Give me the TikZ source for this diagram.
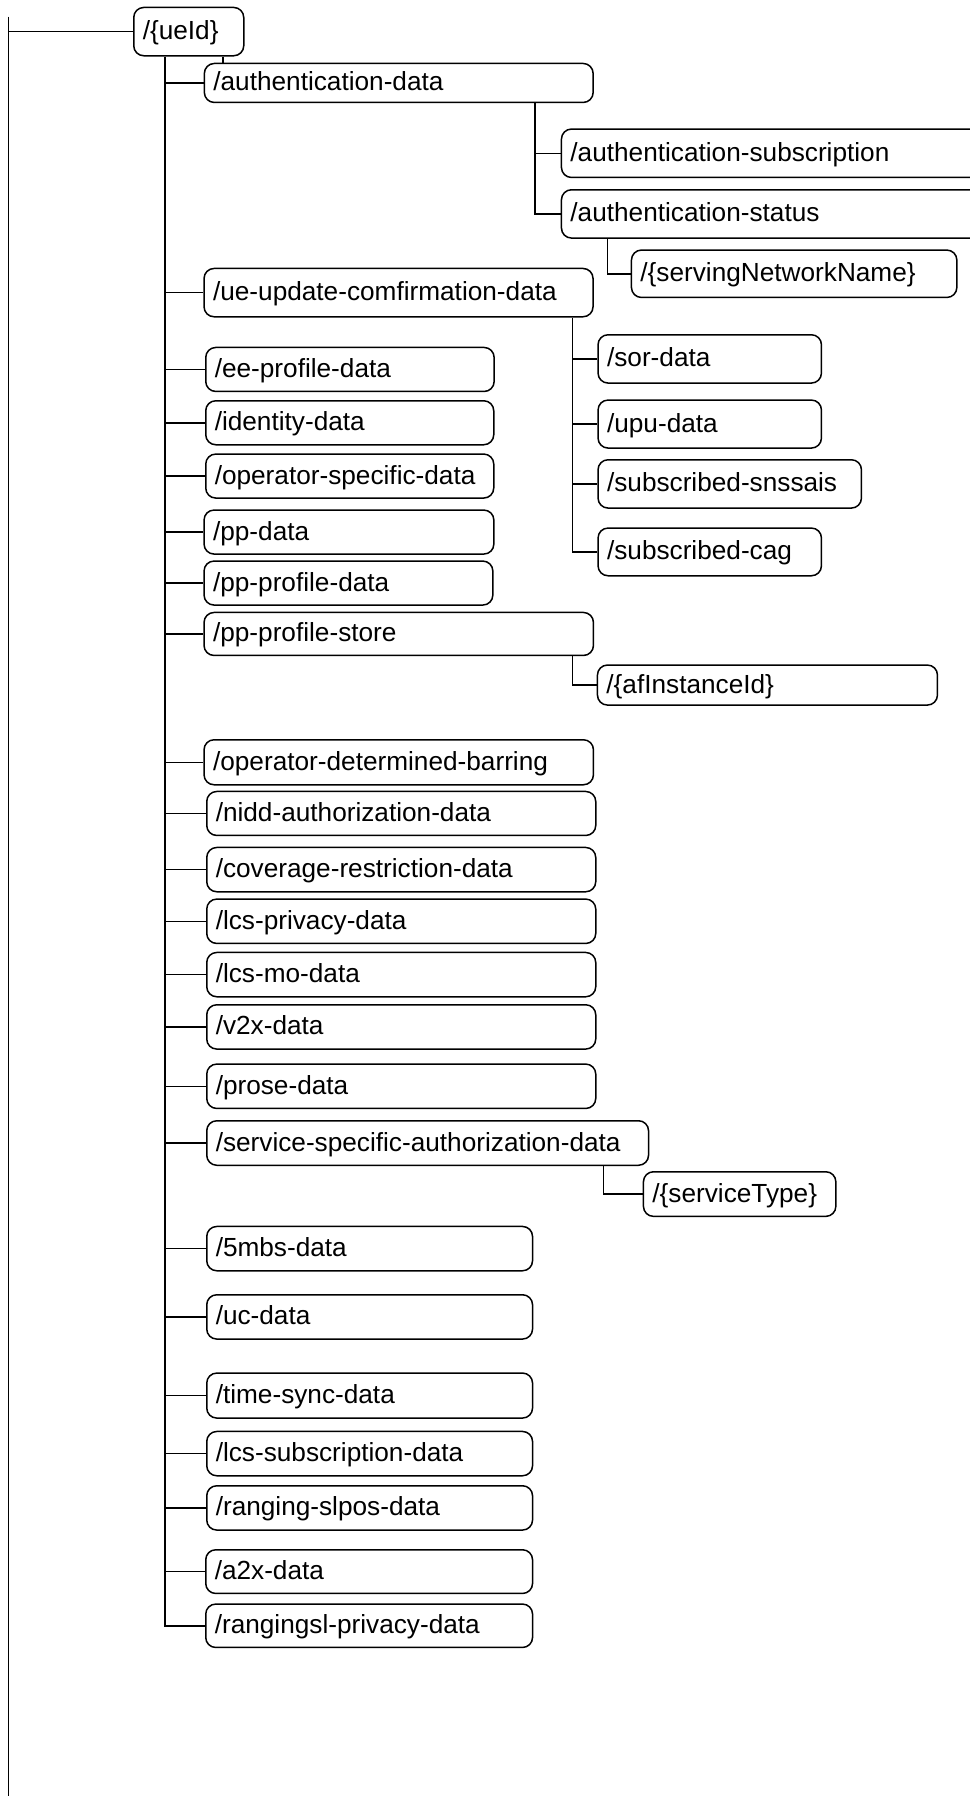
\documentclass[tikz,border=0pt]{standalone}
\usepackage{fontspec}
\setmainfont{Liberation Sans}
\usepackage{tikz}
\tikzset{
  res/.style={draw, rounded corners=5pt, line width=0.75pt, anchor=north west, align=left,
    inner xsep=4.5pt, inner ysep=0pt, minimum height=22pt, text width=185.5pt,
    text height=10.6pt, text depth=2.6pt, font=\fontsize{13.1pt}{15.7pt}\selectfont},
  link/.style={line width=0.75pt}
}
\begin{document}
\begin{tikzpicture}[x=0.5pt,y=0.5pt,yscale=-1,xscale=1]
\useasboundingbox (0,0) rectangle (970,1796);

% Text Node
\node[res, text width=46pt, minimum height=24.15pt] (ueid) at (133,6.7) {/\{ueId\}};
% Text Node
\node[res, text width=185.4pt, minimum height=19.5pt] (authdata) at (203.6,62.7) {/authentication-data};
% Text Node
\node[res, text width=203.2pt, minimum height=24.2pt] (authsub) at (560.7,128.3) {/authentication-subscription};
% Text Node
\node[res, text width=203.2pt, minimum height=24.15pt] (authstatus) at (560.7,189) {/authentication-status};
% Text Node
\node[res, text width=153.7pt, minimum height=23.7pt] (servingnn) at (630.7,249.3) {/\{servingNetworkName\}};
% Text Node
\node[res, minimum height=24.15pt] (ueupdate) at (203.3,267.7) {/ue-update-comfirmation-data};
% Text Node
\node[res, text width=102.7pt, minimum height=24.15pt] (sor) at (597.3,334) {/sor-data};
% Text Node
\node[res, text width=102.7pt, minimum height=24pt] (upu) at (597.3,399.3) {/upu-data};
% Text Node
\node[res, text width=122.7pt, minimum height=24.15pt] (snssais) at (597.3,459) {/subscribed-snssais};
% Text Node
\node[res, text width=102.7pt, minimum height=23.85pt] (cag) at (597.3,527.3) {/subscribed-cag};
% Text Node
\node[res, text width=135.2pt] (eeprofile) at (205,346.7) {/ee-profile-data};
% Text Node
\node[res, text width=135pt] (identity) at (205,400) {/identity-data};
% Text Node
\node[res, text width=135pt] (opspecific) at (205,453.3) {/operator-specific-data};
% Text Node
\node[res, text width=135.9pt] (ppdata) at (203.3,509.3) {/pp-data};
% Text Node
\node[res, text width=135.4pt] (ppprofile) at (203.3,560.3) {/pp-profile-data};
% Text Node
\node[res, text width=185.7pt, minimum height=21.5pt] (ppstore) at (203.3,611.7) {/pp-profile-store};
% Text Node
\node[res, text width=161pt, minimum height=20pt] (afinstance) at (596.7,664.3) {/\{afInstanceId\}};
% Text Node
\node[res, text width=185.7pt, minimum height=22.5pt] (odb) at (203.3,739) {/operator-determined-barring};
% Text Node
\node[res] (nidd) at (206,790.7) {/nidd-authorization-data};
% Text Node
\node[res, minimum height=22.15pt] (coverage) at (206,846.7) {/coverage-restriction-data};
% Text Node
\node[res, minimum height=22.2pt] (lcsprivacy) at (206,898.3) {/lcs-privacy-data};
% Text Node
\node[res, minimum height=22.15pt] (lcsmo) at (206,951.7) {/lcs-mo-data};
% Text Node
\node[res, minimum height=22.15pt] (v2x) at (206,1004) {/v2x-data};
% Text Node
\node[res, minimum height=22.2pt] (prose) at (206,1063.3) {/prose-data};
% Text Node
\node[res, text width=211.9pt, minimum height=22.25pt] (servicespec) at (206,1120) {/service-specific-authorization-data};
% Text Node
\node[res, text width=87.2pt, minimum height=22.3pt] (servicetype) at (642.7,1171) {/\{serviceType\}};
% Text Node
\node[res, text width=153.9pt, minimum height=22.15pt] (mbs) at (206,1225.7) {/5mbs-data};
% Text Node
\node[res, text width=153.9pt, minimum height=22.15pt] (uc) at (206,1294) {/uc-data};
% Text Node
\node[res, text width=153.9pt, minimum height=22.5pt] (timesync) at (206,1372.3) {/time-sync-data};
% Text Node
\node[res, text width=153.9pt, minimum height=22.15pt] (lcssub) at (206,1430.7) {/lcs-subscription-data};
% Text Node
\node[res, text width=153.9pt, minimum height=22.15pt] (rangingslpos) at (206,1485) {/ranging-slpos-data};
% Text Node
\node[res, text width=154.4pt, minimum height=21.85pt] (a2x) at (205,1549) {/a2x-data};
% Text Node
\node[res, text width=154.4pt, minimum height=21.7pt] (rangingsl) at (205,1603.3) {/rangingsl-privacy-data};

%Straight Lines (root)
\coordinate (roottop) at (8.3,16.7);
\coordinate (rootend) at (8.3,1800);
\draw[link] (roottop) -- (rootend);
\draw[link] (roottop |- ueid.west) -- (ueid.west);

%Straight Lines (trunk under ueId)
\coordinate (trunk) at ([xshift=16pt]ueid.south west);
\coordinate (ueidstub) at ([xshift=45pt]ueid.south west);
\draw[link] (ueidstub) -- (ueidstub |- authdata.north);
\draw[link] (trunk) |- (rangingsl.west);
\draw[link] (trunk |- authdata.west) -- (authdata.west);
\draw[link] (trunk |- ueupdate.west) -- (ueupdate.west);
\draw[link] (trunk |- eeprofile.west) -- (eeprofile.west);
\draw[link] (trunk |- identity.west) -- (identity.west);
\draw[link] (trunk |- opspecific.west) -- (opspecific.west);
\draw[link] (trunk |- ppdata.west) -- (ppdata.west);
\draw[link] (trunk |- ppprofile.west) -- (ppprofile.west);
\draw[link] (trunk |- ppstore.west) -- (ppstore.west);
\draw[link] (trunk |- odb.west) -- (odb.west);
\draw[link] (trunk |- nidd.west) -- (nidd.west);
\draw[link] (trunk |- coverage.west) -- (coverage.west);
\draw[link] (trunk |- lcsprivacy.west) -- (lcsprivacy.west);
\draw[link] (trunk |- lcsmo.west) -- (lcsmo.west);
\draw[link] (trunk |- v2x.west) -- (v2x.west);
\draw[link] (trunk |- prose.west) -- (prose.west);
\draw[link] (trunk |- servicespec.west) -- (servicespec.west);
\draw[link] (trunk |- mbs.west) -- (mbs.west);
\draw[link] (trunk |- uc.west) -- (uc.west);
\draw[link] (trunk |- timesync.west) -- (timesync.west);
\draw[link] (trunk |- lcssub.west) -- (lcssub.west);
\draw[link] (trunk |- rangingslpos.west) -- (rangingslpos.west);
\draw[link] (trunk |- a2x.west) -- (a2x.west);

%Straight Lines (authentication-data)
\coordinate (authbr) at ([xshift=165.7pt]authdata.south west);
\draw[link] (authbr) |- (authstatus.west);
\draw[link] (authbr |- authsub.west) -- (authsub.west);
\coordinate (statusbr) at ([xshift=23.3pt]authstatus.south west);
\draw[link] (statusbr) |- (servingnn.west);

%Straight Lines (ue-update-comfirmation-data)
\coordinate (ueupbr) at ([xshift=184.5pt]ueupdate.south west);
\draw[link] (ueupbr) |- (cag.west);
\draw[link] (ueupbr |- sor.west) -- (sor.west);
\draw[link] (ueupbr |- upu.west) -- (upu.west);
\draw[link] (ueupbr |- snssais.west) -- (snssais.west);

%Straight Lines (pp-profile-store)
\coordinate (storebr) at ([xshift=184.7pt]ppstore.south west);
\draw[link] (storebr) |- (afinstance.west);

%Straight Lines (service-specific-authorization-data)
\coordinate (specbr) at ([xshift=198.65pt]servicespec.south west);
\draw[link] (specbr) |- (servicetype.west);

\end{tikzpicture}
\end{document}
